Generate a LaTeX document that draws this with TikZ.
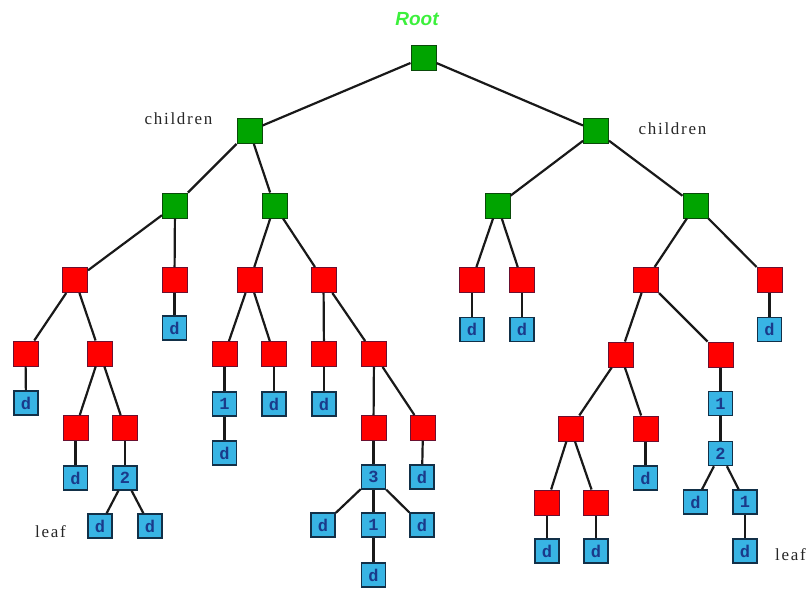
\documentclass[tikz,border=0pt]{standalone}
\usepackage{fontspec}
\setmainfont{Liberation Serif}
\setsansfont{Liberation Sans}
\setmonofont{Liberation Mono}
\newfontfamily\labelfont[LetterSpace=10]{Liberation Serif}
\definecolor{gfill}{HTML}{00A400}
\definecolor{gline}{HTML}{0A4A0A}
\definecolor{rfill}{HTML}{FF0000}
\definecolor{rline}{HTML}{6A1030}
\definecolor{bfill}{HTML}{38B4E4}
\definecolor{bline}{HTML}{123048}
\definecolor{btext}{HTML}{1A3A8A}
\definecolor{rootgreen}{HTML}{3CF03C}
\begin{document}
\begin{tikzpicture}[x=1pt,y=-1pt,
  box/.style={rectangle, minimum width=25pt, minimum height=25pt, inner sep=0pt, line width=1pt},
  gbox/.style={box, fill=gfill, draw=gline},
  rbox/.style={box, fill=rfill, draw=rline},
  bbox/.style={box, minimum width=24pt, minimum height=24pt, fill=bfill, draw=bline, line width=1.5pt,
    font=\ttfamily\bfseries\fontsize{17}{17}\selectfont, text=btext},
  edge/.style={draw=black!90, line width=2.2pt},
  note/.style={font=\labelfont\fontsize{17}{17}\selectfont, text=black!85, inner sep=0pt}]
\useasboundingbox (0,0) rectangle (809,589);

% labels
\node[font=\sffamily\bfseries\itshape\fontsize{19}{19}\selectfont, text=rootgreen, inner sep=0pt] (tRoot) at (417,19.5) {Root};
\node[note] (tch1) at (178.5,119) {children};
\node[note] (tch2) at (672.5,129) {children};
\node[note] (tleaf1) at (50.5,532) {leaf};
\node[note, anchor=west] (tleaf2) at (775,555) {leaf};

% green levels
\node[gbox] (r) at (423.5,57.5) {};
\node[gbox] (a) at (249.5,131) {};
\node[gbox] (b) at (596,131) {};
\node[gbox] (aa) at (175,205.5) {};
\node[gbox] (ab) at (274.5,205.5) {};
\node[gbox] (ba) at (497.5,205.5) {};
\node[gbox] (bb) at (695.5,205.5) {};

% red level
\node[rbox] (aaa) at (75,280) {};
\node[rbox] (aab) at (174.5,280) {};
\node[rbox] (aba) at (250,280) {};
\node[rbox] (abb) at (323.5,280) {};
\node[rbox] (baa) at (472,280) {};
\node[rbox] (bab) at (522,280) {};
\node[rbox] (bba) at (646,280) {};
\node[rbox] (bbb) at (769.5,280) {};

\node[bbox] (aabd) at (174.5,328) {d};
\node[bbox] (baad) at (472,329.5) {d};
\node[bbox] (babd) at (522,329.5) {d};
\node[bbox] (bbbd) at (769.5,329.5) {d};

% next red level
\node[rbox] (aaaa) at (25.5,353.5) {};
\node[rbox] (aaab) at (100,353.5) {};
\node[rbox] (abaa) at (224.5,354) {};
\node[rbox] (abab) at (274,354) {};
\node[rbox] (abba) at (324,354) {};
\node[rbox] (abbb) at (374,354) {};
\node[rbox] (bbaa) at (620.5,354.5) {};
\node[rbox] (bbab) at (720.5,354.5) {};

\node[bbox] (aaaad) at (26,403) {d};
\node[rbox] (aaaba) at (75.5,428) {};
\node[rbox] (aaabb) at (125,428) {};
\node[bbox] (abaa1) at (224.5,404) {1};
\node[bbox] (abaad) at (224.5,453) {d};
\node[bbox] (ababd) at (274,404) {d};
\node[bbox] (abbad) at (324,404) {d};
\node[rbox] (abbba) at (373.5,428) {};
\node[rbox] (abbbb) at (423,428) {};
\node[rbox] (bbaaa) at (570.5,428.5) {};
\node[rbox] (bbaab) at (645.5,428.5) {};
\node[bbox] (bbab1) at (720.5,403.5) {1};
\node[bbox] (bbab2) at (720.5,453.5) {2};
\node[bbox] (bbab2d) at (695.5,502) {d};
\node[bbox] (bbab21) at (745,502) {1};
\node[bbox] (bbab21d) at (745,551) {d};

\node[bbox] (aaabad) at (75.5,478) {d};
\node[bbox] (aaabb2) at (125,478) {2};
\node[bbox] (aaabb2l) at (100,526) {d};
\node[bbox] (aaabb2r) at (150,526) {d};

\node[bbox] (abbba3) at (373.5,477) {3};
\node[bbox] (abbba3l) at (323,525) {d};
\node[bbox] (abbba31) at (373.5,525) {1};
\node[bbox] (abbba31d) at (373.5,575) {d};
\node[bbox] (abbba3r) at (422,525) {d};
\node[bbox] (abbbbd) at (422,477) {d};

\node[rbox] (bbaaaa) at (547,502.5) {};
\node[rbox] (bbaaab) at (596,502.5) {};
\node[bbox] (bbaabd) at (645.5,478) {d};
\node[bbox] (bbaaaad) at (547,551) {d};
\node[bbox] (bbaaabd) at (596,551) {d};

% connectors
\foreach \p/\c in {r/a, r/b, a/aa, a/ab, b/ba, b/bb,
  aa/aaa, aa/aab, ab/aba, ab/abb, ba/baa, ba/bab, bb/bba, bb/bbb,
  aab/aabd, baa/baad, bab/babd, bbb/bbbd,
  aaa/aaaa, aaa/aaab, aba/abaa, aba/abab, abb/abba, abb/abbb, bba/bbaa, bba/bbab,
  aaaa/aaaad, aaab/aaaba, aaab/aaabb, abaa/abaa1, abaa1/abaad, abab/ababd, abba/abbad,
  abbb/abbba, abbb/abbbb, bbaa/bbaaa, bbaa/bbaab, bbab/bbab1, bbab1/bbab2,
  bbab2/bbab2d, bbab2/bbab21, bbab21/bbab21d,
  aaaba/aaabad, aaabb/aaabb2, aaabb2/aaabb2l, aaabb2/aaabb2r,
  abbba/abbba3, abbba3/abbba3l, abbba3/abbba31, abbba31/abbba31d, abbba3/abbba3r, abbbb/abbbbd,
  bbaaa/bbaaaa, bbaaa/bbaaab, bbaab/bbaabd, bbaaaa/bbaaaad, bbaaab/bbaaabd}
  \draw[edge] (\p) -- (\c);
\end{tikzpicture}
\end{document}
